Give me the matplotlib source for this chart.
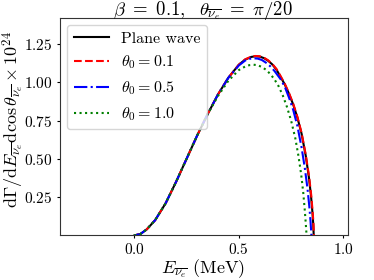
import matplotlib
matplotlib.use("Agg")
import matplotlib.pyplot as plt

plt.rcParams['font.family'] = 'serif'
plt.rcParams['font.serif'] = ['cmr10']
plt.rcParams['mathtext.fontset'] = 'cm'
plt.rcParams['axes.formatter.use_mathtext'] = True

# Plane wave
E_plane = [0.0, 0.03, 0.06, 0.10, 0.15, 0.20, 0.25, 0.30, 0.35, 0.40, 0.45, 0.50,
           0.53, 0.56, 0.58, 0.60, 0.62, 0.64, 0.66, 0.68, 0.70, 0.72, 0.74, 0.76, 0.78,
           0.80, 0.82, 0.835, 0.845, 0.852, 0.856, 0.858]
rate_plane = [0.0, 0.01, 0.04, 0.10, 0.21, 0.35, 0.50, 0.65, 0.79, 0.92, 1.03, 1.115,
              1.148, 1.166, 1.170, 1.168, 1.158, 1.141, 1.117, 1.083, 1.035, 0.985, 0.925,
              0.855, 0.77, 0.665, 0.52, 0.38, 0.26, 0.15, 0.07, 0.0]

# theta0 = 0.1
E_01 = [0.0, 0.03, 0.06, 0.10, 0.15, 0.20, 0.25, 0.30, 0.35, 0.40, 0.45, 0.50,
        0.53, 0.56, 0.58, 0.60, 0.62, 0.64, 0.66, 0.68, 0.70, 0.72, 0.74, 0.76, 0.78,
        0.80, 0.82, 0.836, 0.846, 0.853, 0.857, 0.859]
rate_01 = [0.0, 0.01, 0.04, 0.10, 0.21, 0.35, 0.50, 0.65, 0.79, 0.92, 1.03, 1.115,
           1.150, 1.168, 1.172, 1.170, 1.161, 1.144, 1.120, 1.087, 1.040, 0.990, 0.930,
           0.860, 0.775, 0.67, 0.527, 0.385, 0.265, 0.155, 0.075, 0.0]

# theta0 = 0.5
E_05 = [0.0, 0.03, 0.06, 0.10, 0.15, 0.20, 0.25, 0.30, 0.35, 0.40, 0.45, 0.50,
        0.53, 0.55, 0.57, 0.59, 0.61, 0.63, 0.65, 0.67, 0.70, 0.72, 0.74, 0.76, 0.78,
        0.80, 0.815, 0.828, 0.837, 0.843, 0.847]
rate_05 = [0.0, 0.01, 0.04, 0.10, 0.21, 0.35, 0.50, 0.65, 0.79, 0.92, 1.03, 1.11,
           1.142, 1.153, 1.157, 1.155, 1.146, 1.128, 1.105, 1.075, 1.02, 0.97, 0.90,
           0.82, 0.715, 0.575, 0.445, 0.31, 0.19, 0.09, 0.0]

# theta0 = 1.0
E_10 = [0.0, 0.03, 0.06, 0.10, 0.15, 0.20, 0.25, 0.30, 0.35, 0.40, 0.45, 0.50,
        0.53, 0.55, 0.57, 0.59, 0.61, 0.63, 0.65, 0.67, 0.69, 0.71, 0.73, 0.75, 0.77,
        0.785, 0.798, 0.808, 0.815, 0.82, 0.824]
rate_10 = [0.0, 0.01, 0.04, 0.10, 0.21, 0.35, 0.50, 0.65, 0.79, 0.91, 1.01, 1.08,
           1.103, 1.112, 1.115, 1.112, 1.100, 1.082, 1.055, 1.02, 0.975, 0.915, 0.84,
           0.75, 0.635, 0.52, 0.40, 0.28, 0.17, 0.08, 0.0]

xticks = [0.0, 0.5, 1.0]
yticks = [0.25, 0.50, 0.75, 1.00, 1.25]

W, H = 374, 280
fig = plt.figure(figsize=(3.74, 2.8), dpi=100)
ax = fig.add_axes([60 / W, 1 - 235 / H, 288 / W, 217 / H])

ax.plot(E_plane, rate_plane, color='black', lw=1.5, ls='-', label='Plane wave')
ax.plot(E_01, rate_01, color='red', lw=1.5, ls='--', label=r'$\theta_0 = 0.1$')
ax.plot(E_05, rate_05, color='blue', lw=1.5, ls='-.', label=r'$\theta_0 = 0.5$')
ax.plot(E_10, rate_10, color='green', lw=1.5, ls=':', label=r'$\theta_0 = 1.0$')

ax.set_xlim(-0.355, 1.022)
ax.set_ylim(0.003, 1.42)
ax.set_xticks(xticks)
ax.set_yticks(yticks)
ax.tick_params(labelsize=11, length=2.2, pad=3)
for s in ax.spines.values():
    s.set_color('#333333')

fig.text(203 / W, 1 - 14.5 / H, r'$\beta\ =\ 0.1,\ \ \theta_{\overline{\nu_e}}\ =\ \pi/20$',
         fontsize=13.5, ha='center', va='baseline')
fig.text(203 / W, 1 - 273 / H, r'$E_{\overline{\nu_e}}$ (MeV)',
         fontsize=13, ha='center', va='baseline')
fig.text(18.5 / W, 1 - 119 / H,
         r'$\mathrm{d}\Gamma/\mathrm{d}E_{\overline{\nu_e}}\mathrm{d}\cos\theta_{\overline{\nu_e}}\times 10^{24}$',
         fontsize=13, ha='center', va='baseline', rotation=90, rotation_mode='anchor')

ax.legend(loc='upper left', fontsize=11.5, handlelength=2.2, borderaxespad=0.45)

fig.savefig('out.png', dpi=100)
